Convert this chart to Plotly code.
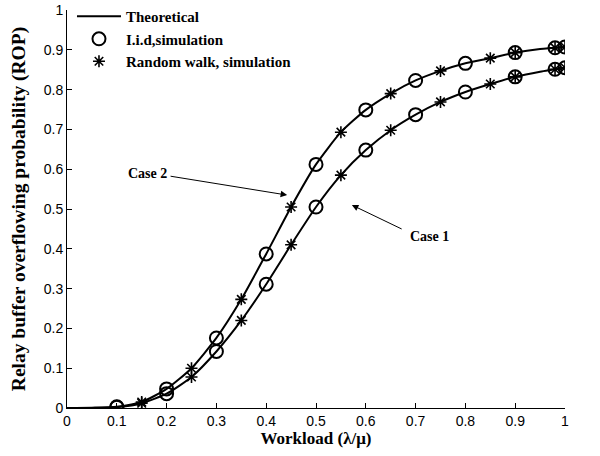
import plotly.graph_objects as go

# Workload values (lambda/mu)
x_theory = [0, 0.05, 0.1, 0.15, 0.2, 0.25, 0.3, 0.35, 0.4, 0.45, 0.5,
            0.55, 0.6, 0.65, 0.7, 0.75, 0.8, 0.85, 0.9, 0.95, 1.0]
case2_theory = [0, 0.0005, 0.003, 0.015, 0.048, 0.10, 0.176, 0.273, 0.387, 0.505, 0.612,
                0.693, 0.749, 0.790, 0.823, 0.847, 0.866, 0.879, 0.893, 0.902, 0.907]
case1_theory = [0, 0.0003, 0.002, 0.012, 0.036, 0.078, 0.142, 0.220, 0.311, 0.410, 0.505,
                0.585, 0.648, 0.698, 0.737, 0.769, 0.794, 0.814, 0.832, 0.845, 0.855]

# I.i.d simulation (circles)
x_iid = [0.1, 0.2, 0.3, 0.4, 0.5, 0.6, 0.7, 0.8, 0.9, 0.98, 1.0]
case2_iid = [0.003, 0.048, 0.176, 0.387, 0.612, 0.749, 0.823, 0.866, 0.893, 0.905, 0.907]
case1_iid = [0.002, 0.036, 0.142, 0.311, 0.505, 0.648, 0.737, 0.794, 0.832, 0.851, 0.855]

# Random walk simulation (stars)
x_rw = [0.15, 0.25, 0.35, 0.45, 0.55, 0.65, 0.75, 0.85, 0.9, 0.98, 1.0]
case2_rw = [0.015, 0.10, 0.273, 0.505, 0.693, 0.790, 0.847, 0.879, 0.893, 0.905, 0.907]
case1_rw = [0.012, 0.078, 0.220, 0.410, 0.585, 0.698, 0.769, 0.814, 0.832, 0.851, 0.855]

tick_vals = [0, 0.1, 0.2, 0.3, 0.4, 0.5, 0.6, 0.7, 0.8, 0.9, 1]
tick_text = ["0", "0.1", "0.2", "0.3", "0.4", "0.5", "0.6", "0.7", "0.8", "0.9", "1"]

SERIF = "Liberation Serif, Times New Roman, serif"
SANS = "Liberation Sans, Arial, sans-serif"

fig = go.Figure()

# theoretical curves
for i, yv in enumerate([case2_theory, case1_theory]):
    fig.add_trace(go.Scatter(
        x=x_theory, y=yv, mode="lines",
        line=dict(color="black", width=2, shape="spline", smoothing=0.6),
        name="Theoretical", legendgroup="th", showlegend=(i == 0),
    ))

# i.i.d simulation
for i, yv in enumerate([case2_iid, case1_iid]):
    fig.add_trace(go.Scatter(
        x=x_iid, y=yv, mode="markers",
        marker=dict(symbol="circle-open", size=13, color="black", line=dict(width=2)),
        name="I.i.d,simulation", legendgroup="iid", showlegend=(i == 0),
    ))

# random walk simulation
for i, yv in enumerate([case2_rw, case1_rw]):
    fig.add_trace(go.Scatter(
        x=x_rw, y=yv, mode="markers",
        marker=dict(symbol="asterisk-open", size=10, color="black", line=dict(width=1.6, color="black")),
        name="Random walk, simulation", legendgroup="rw", showlegend=(i == 0),
    ))

# Case labels with arrows
fig.add_annotation(x=0.442, y=0.535, ax=0.205, ay=0.583, xref="x", yref="y",
                   axref="x", ayref="y", text="", showarrow=True,
                   arrowhead=2, arrowsize=1.3, arrowwidth=1, arrowcolor="black")
fig.add_annotation(x=0.205, y=0.59, xref="x", yref="y", text="<b>Case 2</b>",
                   showarrow=False, xanchor="right", yanchor="middle",
                   font=dict(family=SERIF, size=14, color="black"))
fig.add_annotation(x=0.572, y=0.51, ax=0.675, ay=0.448, xref="x", yref="y",
                   axref="x", ayref="y", text="", showarrow=True,
                   arrowhead=2, arrowsize=1.3, arrowwidth=1, arrowcolor="black")
fig.add_annotation(x=0.685, y=0.43, xref="x", yref="y", text="<b>Case 1</b>",
                   showarrow=False, xanchor="left", yanchor="middle",
                   font=dict(family=SERIF, size=14, color="black"))

fig.update_layout(
    width=600, height=456,
    paper_bgcolor="white", plot_bgcolor="white",
    margin=dict(l=67, r=35, t=10, b=48, autoexpand=False),
    showlegend=True,
    legend=dict(x=0.01, y=1.025, xanchor="left", yanchor="top", itemwidth=44,
                bgcolor="rgba(0,0,0,0)", tracegroupgap=0,
                font=dict(family=SERIF, size=15, color="black", weight="bold")),
    xaxis=dict(range=[0, 1], tickvals=tick_vals, ticktext=tick_text, automargin=False,
               showgrid=False, zeroline=False, showline=True, linecolor="black",
               linewidth=1, ticks="inside", ticklen=5, tickcolor="black",
               tickfont=dict(family=SANS, size=14, color="black"),
               title=dict(text="<b>Workload (λ/μ)</b>", standoff=2,
                          font=dict(family=SERIF, size=17, color="black"))),
    yaxis=dict(range=[0, 1], tickvals=tick_vals, ticktext=tick_text, automargin=False,
               showgrid=False, zeroline=False, showline=True, linecolor="black",
               linewidth=1, ticks="inside", ticklen=5, tickcolor="black",
               tickfont=dict(family=SANS, size=14, color="black"),
               title=dict(text="<b>Relay buffer overflowing probability (ROP)</b>", standoff=12,
                          font=dict(family=SERIF, size=19.5, color="black"))),
)

# drop the default page margin so the figure sits at the window's corner
fig.write_html("out.html", config={"displayModeBar": False},
               post_script="document.body.style.margin='0';")
